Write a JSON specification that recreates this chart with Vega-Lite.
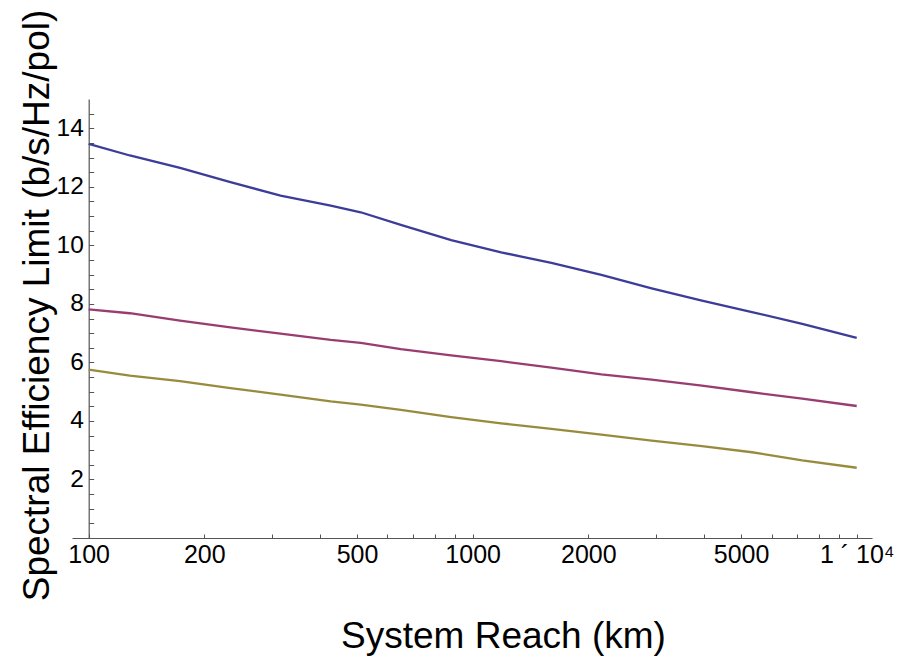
{
  "$schema": "https://vega.github.io/schema/vega-lite/v6.json",
  "width": 800,
  "height": 439,
  "autosize": {"type": "none"},
  "padding": {"left": 72, "top": 99, "right": 33, "bottom": 120},
  "background": "white",
  "config": {
    "view": {"stroke": null},
    "font": "Liberation Sans",
    "axis": {
      "grid": false,
      "domainColor": "#555555",
      "domainWidth": 1.2,
      "tickColor": "#555555",
      "labelColor": "black",
      "labelFont": "Liberation Sans",
      "titleFont": "Liberation Sans",
      "titleFontSize": 37,
      "titleFontWeight": "normal",
      "titleColor": "black",
      "labelOverlap": false,
      "labelBound": false,
      "labelFlush": false
    }
  },
  "data": {
    "values": [
      {"reach": 100, "se": 13.47, "series": "A"},
      {"reach": 128, "se": 13.07, "series": "A"},
      {"reach": 173, "se": 12.65, "series": "A"},
      {"reach": 234, "se": 12.16, "series": "A"},
      {"reach": 316, "se": 11.7, "series": "A"},
      {"reach": 427, "se": 11.36, "series": "A"},
      {"reach": 511, "se": 11.13, "series": "A"},
      {"reach": 650, "se": 10.7, "series": "A"},
      {"reach": 879, "se": 10.18, "series": "A"},
      {"reach": 1186, "se": 9.76, "series": "A"},
      {"reach": 1603, "se": 9.4, "series": "A"},
      {"reach": 2163, "se": 8.99, "series": "A"},
      {"reach": 2924, "se": 8.53, "series": "A"},
      {"reach": 3954, "se": 8.11, "series": "A"},
      {"reach": 5337, "se": 7.72, "series": "A"},
      {"reach": 7213, "se": 7.32, "series": "A"},
      {"reach": 10000, "se": 6.84, "series": "A"},
      {"reach": 100, "se": 7.81, "series": "B"},
      {"reach": 128, "se": 7.68, "series": "B"},
      {"reach": 173, "se": 7.43, "series": "B"},
      {"reach": 234, "se": 7.2, "series": "B"},
      {"reach": 316, "se": 6.98, "series": "B"},
      {"reach": 427, "se": 6.77, "series": "B"},
      {"reach": 511, "se": 6.67, "series": "B"},
      {"reach": 650, "se": 6.45, "series": "B"},
      {"reach": 879, "se": 6.24, "series": "B"},
      {"reach": 1186, "se": 6.04, "series": "B"},
      {"reach": 1603, "se": 5.82, "series": "B"},
      {"reach": 2163, "se": 5.59, "series": "B"},
      {"reach": 2924, "se": 5.41, "series": "B"},
      {"reach": 3954, "se": 5.21, "series": "B"},
      {"reach": 5337, "se": 4.98, "series": "B"},
      {"reach": 7213, "se": 4.76, "series": "B"},
      {"reach": 10000, "se": 4.51, "series": "B"},
      {"reach": 100, "se": 5.75, "series": "C"},
      {"reach": 128, "se": 5.55, "series": "C"},
      {"reach": 173, "se": 5.36, "series": "C"},
      {"reach": 234, "se": 5.12, "series": "C"},
      {"reach": 316, "se": 4.9, "series": "C"},
      {"reach": 427, "se": 4.67, "series": "C"},
      {"reach": 511, "se": 4.56, "series": "C"},
      {"reach": 650, "se": 4.38, "series": "C"},
      {"reach": 879, "se": 4.13, "series": "C"},
      {"reach": 1186, "se": 3.92, "series": "C"},
      {"reach": 1603, "se": 3.73, "series": "C"},
      {"reach": 2163, "se": 3.53, "series": "C"},
      {"reach": 2924, "se": 3.33, "series": "C"},
      {"reach": 3954, "se": 3.14, "series": "C"},
      {"reach": 5337, "se": 2.93, "series": "C"},
      {"reach": 7213, "se": 2.65, "series": "C"},
      {"reach": 10000, "se": 2.4, "series": "C"}
    ]
  },
  "mark": {"type": "line", "strokeWidth": 2.3, "clip": true},
  "encoding": {
    "x": {
      "field": "reach",
      "type": "quantitative",
      "scale": {"type": "log", "domain": [90.5, 10960], "nice": false},
      "axis": {
        "title": "System Reach (km)",
        "values": [100, 200, 300, 400, 500, 600, 700, 800, 900, 1000, 2000, 3000, 4000, 5000, 6000, 7000, 8000, 9000, 10000],
        "format": "d",
        "labelExpr": "datum.value == 10000 ? '1 ´ 10⁴' : (indexof([100, 200, 500, 1000, 2000, 5000], datum.value) >= 0 ? datum.label : '')",
        "labelFontSize": 25,
        "tickSize": -4,
        "labelPadding": 8,
        "titleX": 431,
        "titleY": 109,
        "titleBaseline": "alphabetic",
        "titleAnchor": null
      }
    },
    "y": {
      "field": "se",
      "type": "quantitative",
      "scale": {"domain": [0, 15], "nice": false},
      "axis": {
        "title": "Spectral Efficiency Limit (b/s/Hz/pol)",
        "values": [0.5, 1, 1.5, 2, 2.5, 3, 3.5, 4, 4.5, 5, 5.5, 6, 6.5, 7, 7.5, 8, 8.5, 9, 9.5, 10, 10.5, 11, 11.5, 12, 12.5, 13, 13.5, 14, 14.5],
        "labelExpr": "datum.value % 2 == 0 ? toString(datum.value) : ''",
        "labelFontSize": 24.5,
        "offset": -16.7,
        "tickSize": -5,
        "labelPadding": 10.4,
        "titleX": -40.5,
        "titleY": 206,
        "titleBaseline": "alphabetic",
        "titleAngle": 270
      }
    },
    "color": {
      "field": "series",
      "type": "nominal",
      "scale": {"domain": ["A", "B", "C"], "range": ["#3d3d99", "#993d71", "#998b3d"]},
      "legend": null
    }
  }
}
